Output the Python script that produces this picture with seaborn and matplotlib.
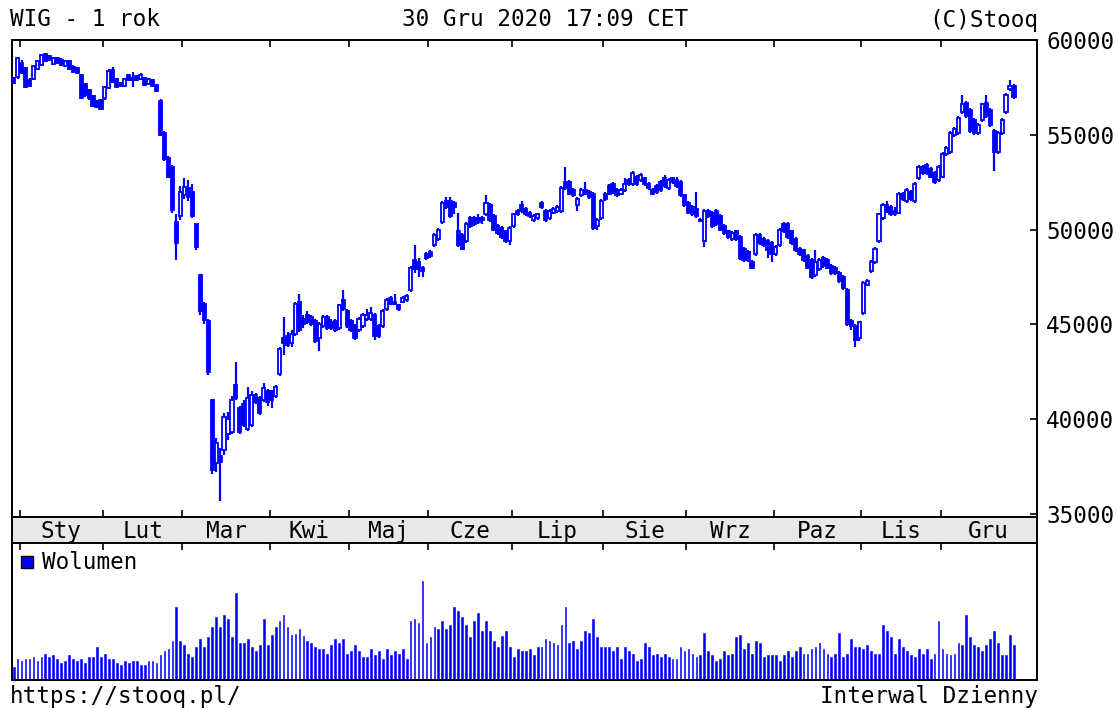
import numpy as np
import pandas as pd
import matplotlib
matplotlib.use("Agg")
import matplotlib.pyplot as plt
import seaborn as sns

# WIG daily candles, 30 Dec 2019 .. 30 Dec 2020
opens = [
    58000, 58050, 58800, 58500, 57900, 57950, 58450, 58700, 59250, 59150,
    58750, 59050, 58950, 58650, 58900, 58600, 58500, 58150, 57700, 57350,
    57050, 56800, 56850, 56950, 57450, 58400, 57950, 57750, 57600, 58150,
    58000, 58100, 57950, 58000, 57700, 57900, 57650, 56800, 55100, 53800,
    53300, 50400, 50700, 51800, 52200, 52000, 50300, 47600, 46100, 45200,
    41000, 37700, 38050, 38400, 39200, 39300, 41800, 40600, 40800, 39500,
    39700, 41300, 41100, 41000, 41500, 41500, 41200, 42400, 44300, 44400,
    44000, 44500, 46200, 45300, 45500, 45400, 45200, 44300, 44900, 45400,
    45100, 45200, 44800, 46300, 45700, 45200, 44900, 44700, 44900, 45300,
    45300, 45500, 44900, 44900, 45800, 46400, 46200, 46000, 46200, 46300,
    46800, 48400, 48300, 48000, 48700, 48800, 49200, 49500, 50400, 51500,
    51500, 51400, 49900, 49700, 49400, 50600, 50600, 50600, 50600, 50800,
    51300, 50700, 50200, 50100, 49900, 49400, 50200, 51000, 51300, 51100,
    50900, 50500, 50600, 51400, 51000, 50600, 50900, 51000, 51000, 52500,
    52500, 52100, 51300, 51800, 52100, 52000, 51900, 50200, 50600, 51900,
    52300, 52400, 52100, 51900, 52100, 52600, 52400, 52800, 52600, 52700,
    52400, 52100, 52300, 52500, 52700, 52200, 52700, 52600, 52500, 51800,
    51400, 51200, 51100, 50500, 49400, 51000, 50900, 51000, 50700, 50200,
    49900, 49500, 49900, 49600, 49000, 48800, 48300, 48700, 49700, 49500,
    49400, 49300, 48700, 49200, 50300, 50300, 49900, 49500, 49000, 48900,
    48600, 48400, 47600, 47900, 48500, 48400, 48100, 48000, 47700, 47500,
    46800, 45200, 44900, 44300, 45600, 47100, 47800, 48300, 49400, 50600,
    51300, 51200, 51000, 50900, 51900, 51500, 52000, 51500, 52700, 53300,
    53400, 53200, 53000, 52600, 52800, 54000, 54100, 55000, 55100, 56200,
    56700, 56300, 55800, 55100, 55800, 56700, 56300, 55200, 54100, 55100,
    56200, 57400, 57600,
]
highs = [
    58050, 59100, 58950, 58550, 58000, 58700, 58950, 59250, 59300, 59200,
    59100, 59100, 59050, 58950, 58950, 58700, 58550, 58200, 57750, 57400,
    57100, 56850, 56900, 57550, 58450, 58600, 58000, 57800, 58000, 58200,
    58300, 58150, 58250, 58050, 58000, 57950, 57700, 56900, 55200, 53900,
    53400, 50800, 52300, 52700, 52600, 52400, 50300, 47650, 46200, 45300,
    41050, 39000, 38500, 40300, 40400, 41200, 43000, 40700, 41000, 41700,
    41500, 41400, 41200, 41900, 41600, 41550, 41800, 43800, 45400, 44600,
    44700, 46200, 46600, 45500, 45700, 45500, 45300, 45100, 45500, 45500,
    45300, 45300, 46100, 46800, 45800, 45300, 45000, 45400, 45600, 45800,
    45900, 45600, 45000, 45800, 46400, 46500, 46600, 46100, 46500, 46600,
    48100, 49200, 48500, 48100, 48800, 48900, 49800, 50100, 51500, 51700,
    51700, 51500, 50900, 49800, 50400, 50700, 50700, 50800, 50700, 51800,
    51400, 50800, 50300, 50200, 50000, 50200, 50900, 51100, 51500, 51200,
    51000, 50800, 50900, 51500, 51100, 51100, 51200, 51300, 52300, 53300,
    52600, 52200, 51700, 52200, 52500, 52100, 52000, 50600, 51600, 52000,
    52400, 52500, 52200, 52200, 52700, 52700, 53100, 52900, 53000, 52800,
    52500, 52200, 52400, 52600, 52900, 52700, 52800, 52800, 52600, 51900,
    51500, 51300, 52000, 50600, 51100, 51100, 51000, 51100, 50800, 50300,
    50000, 49900, 50000, 49700, 49100, 48900, 48400, 49800, 49800, 49600,
    49500, 49400, 49200, 50100, 50400, 50400, 50000, 49600, 49100, 49000,
    48700, 48500, 48900, 48500, 48600, 48500, 48200, 48100, 47800, 47600,
    46900, 45300, 45000, 45200, 47300, 47400, 48400, 49100, 50900, 51400,
    51500, 51300, 51200, 52000, 52000, 52200, 52100, 52500, 53400, 53400,
    53500, 53300, 53100, 53400, 54100, 54400, 55200, 55400, 56000, 57100,
    56800, 56400, 55900, 55600, 56700, 57100, 56400, 55300, 55200, 55900,
    57200, 57900, 57700,
]
lows = [
    57700, 57950, 58200, 57450, 57500, 57900, 58400, 58650, 58850, 58900,
    58700, 58750, 58650, 58600, 58400, 58250, 58200, 56900, 57000, 56850,
    56450, 56400, 56300, 56850, 57400, 57750, 57450, 57500, 57550, 57850,
    57500, 57850, 57900, 57600, 57650, 57500, 57250, 54950, 53600, 52700,
    50900, 48400, 50500, 51600, 51500, 50600, 48900, 45500, 45000, 42350,
    37100, 37200, 35700, 38100, 38900, 39200, 41000, 39200, 39600, 39400,
    39600, 40800, 40200, 40900, 40700, 40600, 41100, 42300, 43400, 43800,
    43800, 44400, 44600, 44800, 45000, 44900, 44000, 43600, 44800, 44700,
    44700, 44600, 44700, 45700, 44800, 44600, 44200, 44600, 44800, 45200,
    45200, 44200, 44300, 44800, 45700, 46000, 46000, 45700, 46150, 46200,
    46700, 47700, 47500, 47500, 48400, 48500, 49100, 49400, 50300, 51100,
    50600, 50800, 49100, 48900, 49300, 50100, 50200, 50300, 50300, 50700,
    50400, 49900, 49700, 49500, 49300, 49200, 50100, 50700, 50900, 50700,
    50600, 50400, 50500, 51100, 50400, 50500, 50800, 50900, 50900, 52100,
    51800, 51700, 51000, 51700, 51800, 51600, 50000, 50000, 50500, 51500,
    51800, 51900, 51700, 51800, 52000, 52300, 52300, 52300, 52500, 52300,
    52100, 51800, 51900, 52000, 52200, 52100, 52400, 52200, 51700, 51200,
    50800, 50700, 50600, 50400, 49100, 50600, 50100, 50200, 49900, 49700,
    49500, 49400, 49400, 48400, 48300, 48300, 47900, 48600, 49200, 49100,
    48500, 48300, 48600, 49100, 49800, 49500, 49200, 48800, 48600, 48300,
    47900, 47400, 47500, 47800, 48000, 47900, 47600, 47600, 47200, 46800,
    44900, 44700, 43800, 44100, 45500, 47000, 47700, 48200, 49300, 50500,
    50900, 50700, 50700, 50800, 51500, 51400, 51500, 51400, 52600, 52900,
    52900, 52700, 52400, 52500, 52700, 53900, 54000, 54900, 55000, 56100,
    55900, 55100, 55000, 55000, 55700, 55900, 55400, 53100, 54000, 55000,
    56100, 57300, 56900,
]
closes = [
    57750, 59050, 58250, 57500, 57600, 58650, 58900, 59200, 58900, 58950,
    59050, 58800, 58700, 58900, 58450, 58300, 58250, 56950, 57100, 56950,
    56500, 56450, 56350, 57500, 58350, 57800, 57500, 57550, 57950, 57900,
    57900, 57900, 58150, 57650, 57950, 57550, 57300, 55000, 53700, 52800,
    51050, 49300, 52000, 52250, 51700, 50700, 49100, 45700, 45250, 42500,
    37300, 38750, 37750, 40100, 40000, 41000, 41100, 39300, 39700, 41100,
    41300, 40900, 40300, 41650, 40900, 41000, 41700, 43700, 44000, 43900,
    44500, 46100, 44700, 45000, 45100, 45000, 44100, 45000, 45400, 44800,
    44800, 44700, 46000, 45800, 44900, 44700, 44300, 45300, 45500, 45500,
    45600, 44400, 44400, 45700, 46300, 46100, 46100, 45800, 46400, 46500,
    48000, 47900, 47900, 47800, 48500, 48600, 49700, 50000, 51400, 51200,
    50700, 51200, 49200, 49000, 50300, 50200, 50300, 50400, 50500, 51400,
    50500, 50000, 49800, 49600, 49400, 50100, 50800, 50800, 51000, 50800,
    50700, 50700, 50800, 51200, 50500, 51000, 51100, 51200, 52200, 52200,
    51900, 51800, 51600, 52100, 51900, 51700, 50100, 50500, 51500, 51600,
    51900, 52000, 51800, 52100, 52400, 52400, 53000, 52400, 52900, 52400,
    52200, 51900, 52000, 52100, 52300, 52600, 52500, 52300, 51800, 51300,
    50900, 50800, 50700, 50450, 51000, 50700, 50200, 50300, 50000, 49800,
    49600, 49800, 49500, 48500, 48400, 48400, 48000, 49700, 49300, 49200,
    48900, 48700, 49100, 50000, 49900, 49600, 49300, 48900, 48700, 48400,
    48000, 47500, 48300, 48400, 48100, 48000, 47700, 47700, 47300, 46900,
    45000, 44900, 44200, 45100, 47200, 47300, 48300, 49000, 50800, 51300,
    51000, 50800, 50800, 51900, 51600, 52100, 51600, 52400, 53300, 53000,
    53000, 52800, 52500, 53300, 54000, 54300, 55100, 55300, 55900, 56600,
    56000, 55200, 55100, 55500, 56600, 56000, 55500, 54100, 55100, 55800,
    57100, 57600, 57000,
]
volumes = [
    12, 20, 18, 20, 20, 22, 18, 22, 25, 22,
    24, 20, 16, 18, 24, 20, 18, 20, 16, 22,
    22, 32, 22, 25, 20, 20, 16, 14, 18, 16,
    18, 18, 14, 14, 18, 18, 16, 24, 28, 30,
    38, 72, 38, 34, 25, 22, 32, 40, 32, 42,
    52, 62, 52, 64, 60, 42, 86, 36, 36, 40,
    32, 28, 34, 60, 34, 44, 52, 58, 64, 52,
    44, 45, 50, 43, 38, 36, 32, 30, 30, 25,
    34, 40, 36, 40, 25, 28, 34, 28, 22, 22,
    30, 24, 28, 20, 30, 24, 28, 25, 30, 20,
    58, 60, 56, 98, 36, 42, 52, 50, 58, 50,
    54, 72, 68, 62, 54, 42, 58, 66, 48, 58,
    48, 38, 32, 43, 48, 32, 22, 30, 28, 28,
    30, 24, 32, 32, 40, 38, 36, 34, 54, 72,
    36, 38, 30, 38, 48, 46, 60, 42, 32, 32,
    32, 28, 32, 20, 32, 28, 25, 18, 20, 36,
    32, 24, 25, 22, 25, 22, 20, 20, 32, 28,
    30, 25, 22, 24, 46, 28, 24, 18, 20, 28,
    24, 25, 42, 44, 30, 36, 25, 38, 36, 22,
    24, 24, 24, 18, 24, 28, 22, 28, 32, 25,
    25, 30, 32, 36, 30, 25, 22, 25, 46, 22,
    25, 40, 32, 32, 30, 34, 28, 25, 25, 54,
    48, 42, 25, 40, 32, 28, 24, 22, 30, 25,
    30, 20, 25, 58, 30, 25, 24, 25, 36, 34,
    64, 42, 34, 32, 28, 34, 40, 48, 36, 24,
    24, 44, 34,
]

# trading days per month; first entry = tail of Dec 2019
month_days = [2, 21, 20, 22, 20, 20, 21, 23, 21, 22, 22, 20, 19]
month_names = ["Sty", "Lut", "Mar", "Kwi", "Maj", "Cze",
               "Lip", "Sie", "Wrz", "Paz", "Lis", "Gru"]
price_ticks = [35000, 40000, 45000, 50000, 55000, 60000]

BLUE = "#0000ff"
W, H = 1117, 709
XLIM = (-0.41, 257.8)


def box(l, t, r, b):
    return [l / W, 1 - b / H, (r - l) / W, (b - t) / H]


def main():
    sns.set_theme(style="white")
    plt.rcParams["font.family"] = ["DejaVu Sans Mono"]
    plt.rcParams["text.color"] = "black"
    plt.rcParams["xtick.color"] = "black"
    plt.rcParams["ytick.color"] = "black"
    fs = 16.3

    df = pd.DataFrame({"open": opens, "high": highs, "low": lows,
                       "close": closes, "volume": volumes})
    df["x"] = np.arange(len(df))
    up = df["close"] >= df["open"]

    bounds = np.cumsum(month_days)[:-1] - 0.5
    ends = list(bounds[1:]) + [XLIM[1]]
    centers = [(a + b) / 2 for a, b in zip(bounds, ends)]

    fig = plt.figure(figsize=(W / 100, H / 100), dpi=100)
    ax = fig.add_axes(box(12, 40, 1037, 517))
    ax_m = fig.add_axes(box(12, 517, 1037, 543))
    ax_v = fig.add_axes(box(12, 543, 1037, 680))

    # candles: filled = down day, hollow = up day
    ax.vlines(df["x"], df["low"], df["high"], color=BLUE, lw=1.6, zorder=2)
    dn = df[~up]
    ax.bar(dn["x"], dn["open"] - dn["close"], bottom=dn["close"], width=0.78,
           color=BLUE, edgecolor=BLUE, lw=1.3, zorder=3)
    uu = df[up]
    ax.bar(uu["x"], uu["close"] - uu["open"], bottom=uu["open"], width=0.78,
           facecolor="white", edgecolor=BLUE, lw=1.3, zorder=3)
    ax.set_xlim(*XLIM)
    ax.set_ylim(34840, 60000)
    ax.yaxis.tick_right()
    ax.set_yticks(price_ticks)
    ax.set_yticklabels([str(v) for v in price_ticks])
    ax.tick_params(axis="y", right=True, left=False, direction="in", length=5,
                   width=1.2, labelsize=fs, pad=6.5, colors="black")
    ax.set_xticks(bounds)
    ax.tick_params(axis="x", top=True, bottom=True, direction="in", length=5,
                   width=1.2, labelbottom=False, labeltop=False, colors="black")
    ax.set_xlabel("")
    ax.set_ylabel("")

    # month strip
    ax_m.set_facecolor("#e8e8e8")
    ax_m.set_xlim(*XLIM)
    ax_m.set_ylim(0, 1)
    ax_m.set_xticks([])
    ax_m.set_yticks([])
    for c, name in zip(centers, month_names):
        ax_m.text(c, 0.45, name, ha="center", va="center", fontsize=fs,
                  color="black")

    # volume
    sns.barplot(data=df, x="x", y="volume", native_scale=True, color=BLUE,
                saturation=1, width=0.45, edgecolor=BLUE, linewidth=0.4,
                errorbar=None, ax=ax_v)
    ax_v.set_xlim(*XLIM)
    ax_v.set_ylim(-0.5, 136)
    ax_v.set_xticks(bounds)
    ax_v.set_yticks([])
    ax_v.tick_params(axis="x", top=True, bottom=False, direction="in", length=5,
                     width=1.2, labelbottom=False, labeltop=False, colors="black")
    ax_v.set_xlabel("")
    ax_v.set_ylabel("")
    ax_v.plot([0.0146], [0.86], marker="s", ms=8, mfc=BLUE, mec="black",
              mew=1.0, transform=ax_v.transAxes, clip_on=False)
    ax_v.text(0.029, 0.86, "Wolumen", transform=ax_v.transAxes,
              ha="left", va="center", fontsize=fs, color="black")

    for a in (ax, ax_m, ax_v):
        for s in a.spines.values():
            s.set_color("black")
            s.set_linewidth(1.4)
            s.set_visible(True)

    fig.text(10 / W, 1 - 20 / H, "WIG - 1 rok", ha="left", va="center", fontsize=fs)
    fig.text(545 / W, 1 - 20 / H, "30 Gru 2020 17:09 CET", ha="center",
             va="center", fontsize=fs)
    fig.text(1038 / W, 1 - 20 / H, "(C)Stooq", ha="right", va="center", fontsize=fs)
    fig.text(10 / W, 1 - 696 / H, "https://stooq.pl/", ha="left", va="center",
             fontsize=fs)
    fig.text(1038 / W, 1 - 696 / H, "Interwal Dzienny", ha="right", va="center",
             fontsize=fs)

    fig.savefig("out.png", dpi=100, facecolor="white")
    plt.close(fig)


if __name__ == "__main__":
    main()
